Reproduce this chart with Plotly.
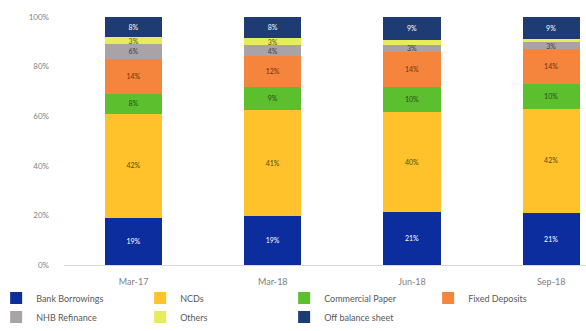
import plotly.graph_objects as go

periods = ["Mar-17", "Mar-18", "Jun-18", "Sep-18"]

# Share of borrowings (%) per source, listed bottom-to-top of each stack
bank_borrowings = [19, 19, 21, 21]
ncds = [42, 41, 40, 42]
commercial_paper = [8, 9, 10, 10]
fixed_deposits = [14, 12, 14, 14]
nhb_refinance = [6, 4, 3, 3]
others = [3, 3, 2, 1]
off_balance_sheet = [8, 8, 9, 9]

y_ticks = [0, 20, 40, 60, 80, 100]
y_tick_labels = [f"{t}%" for t in y_ticks]

series = [
    ("Bank Borrowings", bank_borrowings, "#0B2D9E", "white"),
    ("NCDs", ncds, "#FFC22B", "#5a4a10"),
    ("Commercial Paper", commercial_paper, "#5CBF2E", "#2f4a18"),
    ("Fixed Deposits", fixed_deposits, "#F5843C", "#6b3410"),
    ("NHB Refinance", nhb_refinance, "#A9A2A6", "#404040"),
    ("Others", others, "#E6EC5A", "#505020"),
    ("Off balance sheet", off_balance_sheet, "#1F3B73", "white"),
]

fig = go.Figure()
for name, vals, color, tcolor in series:
    # slivers under 3% carry no label; thin segments get a smaller font
    labels = [f"{v}%" if v >= 3 else "" for v in vals]
    sizes = [7 if v <= 4 else 8 for v in vals]
    fig.add_trace(go.Bar(
        name=name, x=periods, y=vals,
        marker=dict(color=color, line=dict(width=0)),
        text=labels, textposition="inside", insidetextanchor="middle",
        textfont=dict(color=tcolor, size=sizes, family="Lato"),
        constraintext="none",
    ))

fig.update_layout(
    barmode="stack",
    barnorm="percent",
    bargap=0.59,
    width=586, height=331,
    margin=dict(l=64, r=0, t=17, b=66, autoexpand=False),
    paper_bgcolor="white", plot_bgcolor="white",
    font=dict(family="Lato", size=9, color="#595959"),
    uniformtext=dict(minsize=6, mode="show"),
    xaxis=dict(
        range=[-0.5, 3.25], showgrid=False, showline=False,
        tickfont=dict(size=9, color="#7f7f7f"), ticks="",
        ticklabelstandoff=10,
    ),
    yaxis=dict(
        range=[0, 100], tickmode="array",
        tickvals=y_ticks, ticktext=y_tick_labels,
        showgrid=False, zeroline=True,
        zerolinecolor="#d9d9d9", zerolinewidth=1,
        tickfont=dict(size=8, color="#7f7f7f"), ticklabelstandoff=14,
    ),
    legend=dict(
        orientation="h", traceorder="normal",
        x=-0.13, xanchor="left", y=-0.075, yanchor="top",
        entrywidth=99, entrywidthmode="pixels",
        bgcolor="rgba(0,0,0,0)",
        font=dict(size=9, color="#595959"),
        itemwidth=30, tracegroupgap=0,
    ),
)

fig.write_html("out.html")
